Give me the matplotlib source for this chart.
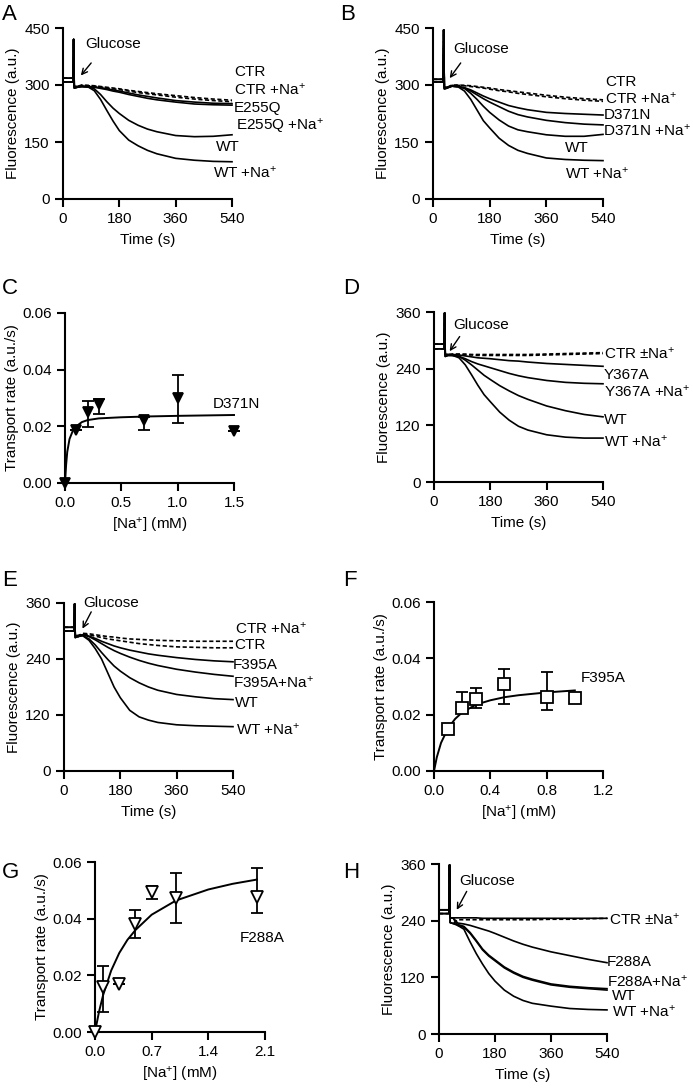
import numpy as np
import matplotlib.pyplot as plt

plt.rcParams['font.family'] = ['Liberation Sans', 'DejaVu Sans']
plt.rcParams['mathtext.fontset'] = 'custom'
plt.rcParams['mathtext.rm'] = 'Liberation Sans'
plt.rcParams['mathtext.it'] = 'Liberation Sans:italic'
plt.rcParams['mathtext.bf'] = 'Liberation Sans:bold'

W, H = 693, 1090
FS = 11
LFS = 11
NA = r'Na$^{+}$'

# ---- fluorescence traces: shared time grid ----
PRE_T = [0, 30, 32, 34, 36, 45]
POST_T = [60, 80, 100, 120, 140, 160, 180, 210, 240, 270, 300, 360, 420, 480, 540]

# panel A
A_PRE_HI = [318, 318, 318, 420, 296, 296]
A_PRE_LO = [308, 308, 308, 420, 292, 294]
A_CTR = [300, 299, 298, 296, 294, 292, 290, 286, 283, 280, 277, 272, 267, 263, 260]
A_CTR_NA = [299, 298, 297, 295, 292, 290, 288, 284, 280, 277, 274, 268, 263, 259, 256]
A_MUT = [297, 296, 295, 293, 290, 287, 284, 279, 274, 270, 266, 259, 255, 252, 251]
A_MUT_NA = [296, 295, 294, 291, 288, 284, 281, 275, 270, 265, 261, 255, 250, 248, 247]
A_WT = [296, 295, 290, 275, 256, 239, 225, 207, 194, 184, 177, 167, 164, 165, 169]
A_WT_NA = [296, 295, 285, 262, 233, 205, 180, 155, 140, 128, 119, 107, 102, 99, 98]

# panel B
B_PRE_HI = [315, 315, 315, 445, 294, 294]
B_PRE_LO = [308, 308, 308, 445, 290, 292]
B_CTR = [300, 300, 299, 298, 296, 294, 292, 288, 285, 282, 279, 273, 268, 264, 261]
B_CTR_NA = [299, 299, 298, 296, 294, 292, 289, 285, 282, 278, 275, 269, 264, 260, 257]
B_MUT = [297, 296, 293, 287, 279, 271, 264, 255, 246, 240, 235, 228, 225, 223, 221]
B_MUT_NA = [297, 296, 292, 284, 274, 264, 255, 243, 231, 222, 216, 207, 201, 197, 195]
B_WT = [297, 296, 291, 278, 262, 244, 228, 208, 192, 182, 177, 169, 165, 165, 170]
B_WT_NA = [297, 295, 284, 262, 234, 206, 187, 160, 141, 128, 120, 108, 104, 102, 101]

# panel D
D_PRE_HI = [292, 292, 292, 358, 270, 270]
D_PRE_LO = [282, 282, 282, 358, 266, 268]
D_CTR = [271, 271, 271, 270, 270, 270, 270, 270, 270, 270, 270, 271, 272, 273, 274]
D_CTR_NA = [270, 270, 269, 269, 268, 268, 268, 268, 268, 268, 268, 269, 270, 271, 272]
D_MUT = [270, 269, 267, 265, 263, 262, 261, 259, 257, 256, 254, 251, 249, 247, 245]
D_MUT_NA = [268, 266, 261, 255, 250, 246, 242, 236, 230, 225, 221, 215, 211, 209, 208]
D_WT = [268, 266, 258, 248, 237, 226, 217, 204, 193, 183, 175, 161, 151, 143, 138]
D_WT_NA = [268, 263, 248, 227, 205, 185, 170, 148, 131, 118, 110, 100, 95, 93, 93]

# panel E
E_PRE_HI = [308, 308, 308, 358, 290, 290]
E_PRE_LO = [300, 300, 300, 358, 286, 288]
E_CTR_NA = [295, 294, 292, 290, 288, 287, 285, 283, 282, 281, 280, 279, 278, 278, 278]
E_CTR = [294, 292, 289, 286, 283, 281, 279, 276, 273, 271, 269, 266, 265, 264, 264]
E_MUT = [292, 289, 284, 278, 273, 268, 264, 259, 255, 251, 248, 243, 239, 236, 234]
E_MUT_NA = [292, 288, 281, 273, 265, 258, 252, 244, 237, 231, 226, 218, 212, 207, 203]
E_WT = [290, 283, 270, 254, 239, 225, 214, 200, 189, 180, 173, 164, 159, 155, 153]
E_WT_NA = [290, 280, 262, 240, 210, 180, 157, 130, 116, 109, 104, 99, 97, 96, 95]

# panel H
H_PRE_HI = [263, 263, 263, 358, 246, 246]
H_PRE_LO = [255, 255, 255, 358, 236, 234]
H_CTR = [246, 246, 246, 246, 245, 245, 245, 245, 245, 245, 245, 245, 245, 245, 245]
H_CTR_NA = [242, 242, 242, 242, 242, 242, 242, 242, 242, 242, 242, 243, 243, 244, 245]
H_MUT = [235, 233, 230, 226, 222, 218, 213, 205, 197, 190, 184, 174, 166, 158, 151]
H_MUT_NA = [232, 228, 215, 198, 180, 167, 157, 142, 131, 122, 116, 106, 101, 98, 96]
H_WT = [230, 226, 213, 196, 178, 165, 155, 140, 129, 120, 114, 104, 99, 96, 93]
H_WT_NA = [230, 222, 195, 170, 148, 128, 112, 93, 80, 71, 65, 59, 54, 52, 51]

# ---- transport rate vs [Na+] ----
C_X = [0.0, 0.1, 0.2, 0.3, 0.7, 1.0, 1.5]
C_Y = [0.0, 0.0186, 0.025, 0.028, 0.0224, 0.030, 0.0184]
C_LO = [0.0, 0.0186, 0.0198, 0.0245, 0.0186, 0.021, 0.0184]
C_HI = [0.0, 0.0186, 0.029, 0.0298, 0.0232, 0.038, 0.0184]
C_FIT_X = [0, 0.01, 0.02, 0.04, 0.07, 0.1, 0.15, 0.2, 0.3, 0.5, 0.75, 1.0, 1.5]
C_FIT_Y = [0, 0.0065, 0.011, 0.0155, 0.0185, 0.020, 0.0215, 0.0222, 0.0228,
           0.0232, 0.0235, 0.0237, 0.0240]

F_X = [0.1, 0.2, 0.3, 0.5, 0.8, 1.0]
F_Y = [0.0149, 0.0223, 0.0256, 0.0308, 0.0264, 0.0258]
F_LO = [0.0149, 0.0205, 0.0225, 0.0237, 0.0215, 0.0258]
F_HI = [0.0149, 0.028, 0.0295, 0.0362, 0.035, 0.0258]
F_FIT_X = [0, 0.02, 0.05, 0.1, 0.15, 0.2, 0.3, 0.4, 0.5, 0.6, 0.8, 1.0]
F_FIT_Y = [0, 0.0049, 0.010, 0.0152, 0.0185, 0.0208, 0.0236, 0.0251, 0.0262,
           0.0269, 0.0279, 0.0286]

G_X = [0.0, 0.1, 0.3, 0.5, 0.7, 1.0, 2.0]
G_Y = [0.0, 0.0159, 0.0171, 0.0382, 0.0493, 0.0473, 0.0476]
G_LO = [0.0, 0.0071, 0.0171, 0.0332, 0.047, 0.0385, 0.042]
G_HI = [0.0, 0.0232, 0.0171, 0.0432, 0.0514, 0.0561, 0.0579]
G_FIT_X = [0, 0.05, 0.1, 0.2, 0.3, 0.4, 0.5, 0.7, 1.0, 1.4, 1.7, 2.0]
G_FIT_Y = [0, 0.0072, 0.013, 0.0217, 0.0279, 0.0325, 0.036, 0.0414, 0.0464,
           0.0503, 0.0523, 0.0538]


def px_rect(x0, y0, x1, y1):
    return [x0 / W, 1 - y1 / H, (x1 - x0) / W, (y1 - y0) / H]


def style_axes(ax):
    for s in ['top', 'right']:
        ax.spines[s].set_visible(False)
    for s in ['left', 'bottom']:
        ax.spines[s].set_linewidth(1.5)
    ax.tick_params(direction='out', length=5.5, width=1.5, labelsize=FS, pad=4)


def trace_panel(ax, curves, labels, ymax, arrow, text_at):
    style_axes(ax)
    for pre, post, dashed in curves:
        ax.plot(PRE_T + POST_T, pre + post, color='black', lw=1.2,
                ls=(0, (2.5, 1.5)) if dashed else '-', clip_on=False)
    ax.set_xlim(0, 540)
    ax.set_ylim(0, ymax)
    ax.set_xticks([0, 180, 360, 540])
    ax.set_yticks(np.linspace(0, ymax, 4))
    ax.set_xlabel('Time (s)', fontsize=FS, labelpad=5)
    ax.set_ylabel('Fluorescence (a.u.)', fontsize=FS, labelpad=3)
    for txt, t, v in labels:
        ax.text(t, v, txt, fontsize=LFS, ha='left', va='center', clip_on=False)
    ax.text(text_at[0], text_at[1], 'Glucose', fontsize=FS,
            ha='center', va='center', clip_on=False)
    ax.annotate('', xy=arrow[1], xytext=arrow[0],
                arrowprops=dict(arrowstyle='->', lw=1.0, color='black',
                                shrinkA=0, shrinkB=0), annotation_clip=False)


def rate_panel(ax, x, y, lo, hi, fit_x, fit_y, marker, face, ms, xmax, xticks, label):
    style_axes(ax)
    y = np.array(y)
    yerr = [y - np.array(lo), np.array(hi) - y]
    ax.errorbar(x, y, yerr=yerr, fmt='none', ecolor='black', elinewidth=1.3,
                capsize=4, capthick=1.3, clip_on=False, zorder=2)
    ax.plot(fit_x, fit_y, color='black', lw=1.4, zorder=3, clip_on=False)
    ax.plot(x, y, ls='none', marker=marker, ms=ms, mfc=face, mec='black',
            mew=1.3, zorder=4, clip_on=False)
    ax.set_xlim(0, xmax)
    ax.set_ylim(0, 0.06)
    ax.set_xticks(xticks)
    ax.set_xticklabels(['%.1f' % v for v in xticks])
    ax.set_yticks([0, 0.02, 0.04, 0.06])
    ax.set_yticklabels(['0.00', '0.02', '0.04', '0.06'])
    ax.set_xlabel('[' + NA + '] (mM)', fontsize=FS, labelpad=4)
    ax.set_ylabel('Transport rate (a.u./s)', fontsize=FS, labelpad=2)
    ax.text(label[0], label[1], label[2], fontsize=FS, ha='left', va='center')


fig = plt.figure(figsize=(W / 100, H / 100), dpi=100)

axA = fig.add_axes(px_rect(63, 28, 232, 199))
trace_panel(axA,
            [(A_PRE_HI, A_CTR, True), (A_PRE_LO, A_CTR_NA, True),
             (A_PRE_HI, A_MUT, False), (A_PRE_LO, A_MUT_NA, False),
             (A_PRE_HI, A_WT, False), (A_PRE_LO, A_WT_NA, False)],
            [('CTR', 546, 334), ('CTR +' + NA, 546, 289),
             ('E255Q', 546, 239), ('E255Q +' + NA, 552, 191),
             ('WT', 490, 138), ('WT +' + NA, 479, 70)],
            450, ((90, 358), (57, 325)), (160, 409))

axB = fig.add_axes(px_rect(433, 28, 603, 199))
trace_panel(axB,
            [(B_PRE_HI, B_CTR, True), (B_PRE_LO, B_CTR_NA, True),
             (B_PRE_HI, B_MUT, False), (B_PRE_LO, B_MUT_NA, False),
             (B_PRE_HI, B_WT, False), (B_PRE_LO, B_WT_NA, False)],
            [('CTR', 547, 309), ('CTR +' + NA, 547, 264),
             ('D371N', 541, 221), ('D371N +' + NA, 540, 179),
             ('WT', 420, 134), ('WT +' + NA, 420, 68)],
            450, ((88, 358), (53, 318)), (153, 395))

axC = fig.add_axes(px_rect(65, 313, 234, 483))
rate_panel(axC, C_X, C_Y, C_LO, C_HI, C_FIT_X, C_FIT_Y, 'v', 'black', 7,
           1.5, [0.0, 0.5, 1.0, 1.5], (1.31, 0.028, 'D371N'))

axD = fig.add_axes(px_rect(434, 312, 603, 482))
trace_panel(axD,
            [(D_PRE_HI, D_CTR, True), (D_PRE_LO, D_CTR_NA, True),
             (D_PRE_HI, D_MUT, False), (D_PRE_LO, D_MUT_NA, False),
             (D_PRE_HI, D_WT, False), (D_PRE_LO, D_WT_NA, False)],
            [('CTR \u00b1' + NA, 542, 271), ('Y367A', 542, 227),
             ('Y367A +' + NA, 542, 192), ('WT', 542, 132),
             ('WT +' + NA, 542, 86)],
            360, ((82, 308), (50, 277)), (151, 332))

axE = fig.add_axes(px_rect(64, 603, 233, 771))
trace_panel(axE,
            [(E_PRE_HI, E_CTR_NA, True), (E_PRE_LO, E_CTR, True),
             (E_PRE_HI, E_MUT, False), (E_PRE_LO, E_MUT_NA, False),
             (E_PRE_HI, E_WT, False), (E_PRE_LO, E_WT_NA, False)],
            [('CTR +' + NA, 545, 305), ('CTR', 545, 271),
             ('F395A', 540, 227), ('F395A+' + NA, 540, 189),
             ('WT', 545, 146), ('WT +' + NA, 551, 89)],
            360, ((87, 341), (59, 305)), (151, 361))

axF = fig.add_axes(px_rect(434, 602, 603, 771))
rate_panel(axF, F_X, F_Y, F_LO, F_HI, F_FIT_X, F_FIT_Y, 's', 'white', 8,
           1.2, [0.0, 0.4, 0.8, 1.2], (1.04, 0.033, 'F395A'))

axG = fig.add_axes(px_rect(95, 862, 265, 1032))
rate_panel(axG, G_X, G_Y, G_LO, G_HI, G_FIT_X, G_FIT_Y, 'v', 'white', 8,
           2.1, [0.0, 0.7, 1.4, 2.1], (1.79, 0.033, 'F288A'))

axH = fig.add_axes(px_rect(439, 864, 607, 1034))
trace_panel(axH,
            [(H_PRE_HI, H_CTR, False), (H_PRE_LO, H_CTR_NA, True),
             (H_PRE_HI, H_MUT, False), (H_PRE_LO, H_MUT_NA, False),
             (H_PRE_HI, H_WT, False), (H_PRE_LO, H_WT_NA, False)],
            [('CTR \u00b1' + NA, 545, 242), ('F288A', 540, 152),
             ('F288A+' + NA, 540, 111), ('WT', 556, 80),
             ('WT +' + NA, 556, 48)],
            360, ((89, 302), (57, 263)), (154, 323))

# panel letters
for letter, x, y in [('A', 2, 4), ('B', 340, 4), ('C', 2, 278), ('D', 343, 278),
                     ('E', 2, 570), ('F', 343, 570), ('G', 2, 862), ('H', 343, 862)]:
    fig.text(x / W, 1 - y / H, letter, fontsize=16, ha='left', va='top')

fig.savefig('out.png', dpi=100)
